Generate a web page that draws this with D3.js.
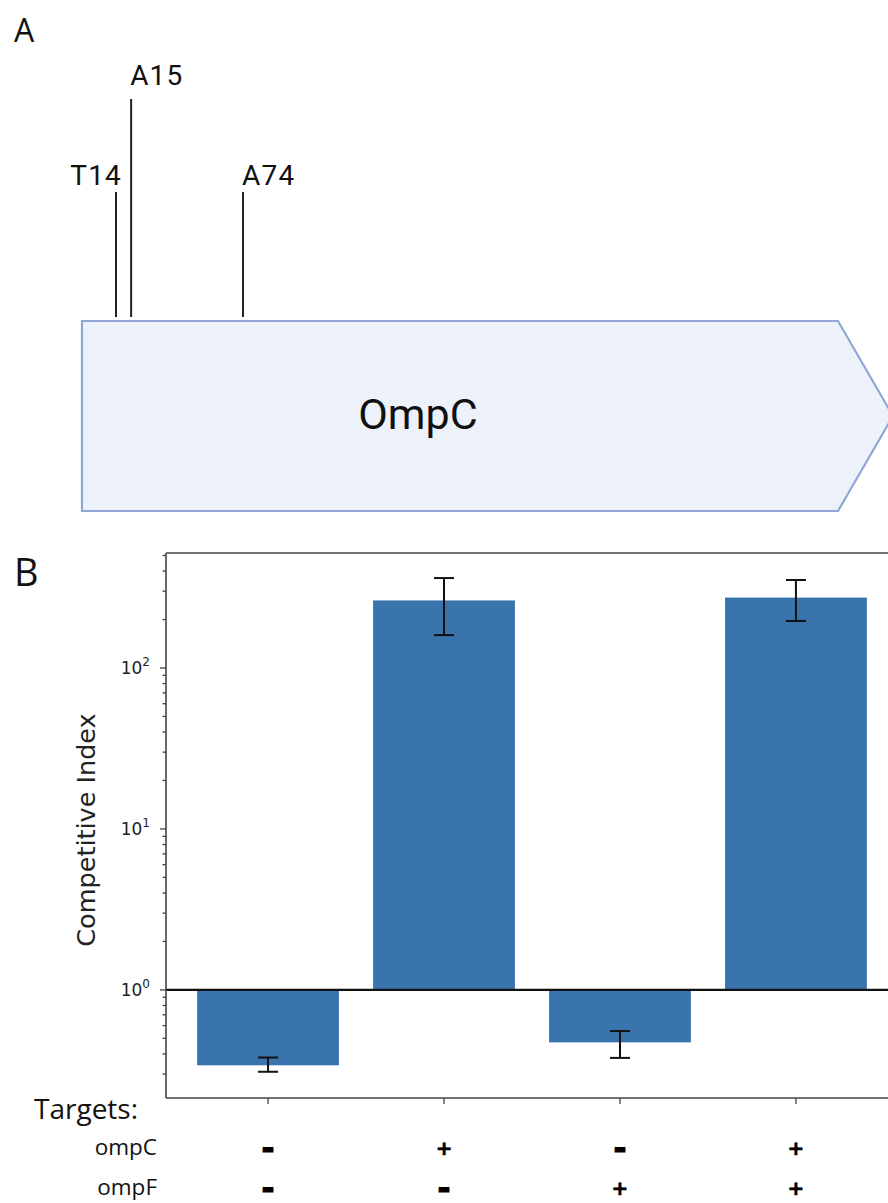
<!DOCTYPE html>
<html><head><meta charset="utf-8">
<script src="https://cdn.jsdelivr.net/npm/d3@7"></script>
<style>body{margin:0;background:#fff}svg{display:block}</style>
</head><body>
<svg id="c" width="888" height="1203"></svg>
<script>
// ---- Panel A data ----
const geneName = "OmpC";
const mutations = ["T14", "A15", "A74"];
const mutationPos = [0.045, 0.065, 0.213];   // fraction along the gene schematic
const mutationLevel = [1, 2, 1];             // label tier
// ---- Panel B data ----
const conditions = ["ompC- ompF-", "ompC+ ompF-", "ompC- ompF+", "ompC+ ompF+"];
const ciValues = [0.342, 261, 0.475, 272];
const ciLow = [0.31, 160, 0.378, 196];
const ciHigh = [0.38, 362, 0.555, 352];
const ompCSign = ["-", "+", "-", "+"];
const ompFSign = ["-", "-", "+", "+"];
const yDomain = [0.213, 518];
const majorTicks = [1, 10, 100];
const majorExp = ["0", "1", "2"];

const svg = d3.select("#c");
svg.append("rect").attr("width", 888).attr("height", 1203).attr("fill", "#fff");

// ---------- Panel A ----------
svg.append("text").attr("x", 14).attr("y", 42).text("A")
  .attr("font-family", "Open Sans").attr("font-size", 32).attr("fill", "#111");

const gx0 = 82, gx1 = 838, gTip = 893, gTop = 321, gBot = 511;
const gScale = d3.scaleLinear().domain([0, 1]).range([gx0, gx1]);
const arrow = d3.path();
arrow.moveTo(gScale(0), gTop); arrow.lineTo(gScale(1), gTop);
arrow.lineTo(gTip, (gTop + gBot) / 2); arrow.lineTo(gScale(1), gBot);
arrow.lineTo(gScale(0), gBot); arrow.closePath();
svg.append("path").attr("d", arrow.toString())
  .attr("fill", "#edf2fa").attr("stroke", "#8fa6d6").attr("stroke-width", 2.2);
svg.append("text").attr("x", 418).attr("y", 429).attr("text-anchor", "middle")
  .text(geneName).attr("font-family", "Roboto").attr("font-size", 43).attr("fill", "#111");

const tierTop = d3.scaleOrdinal().domain([1, 2]).range([192, 99]);
const tierGap = d3.scaleOrdinal().domain([1, 2]).range([7, 14]);
const mg = svg.append("g").selectAll("g").data(mutations).join("g");
mg.append("line")
  .attr("x1", (d, i) => gScale(mutationPos[i])).attr("x2", (d, i) => gScale(mutationPos[i]))
  .attr("y1", (d, i) => tierTop(mutationLevel[i])).attr("y2", 317)
  .attr("stroke", "#222").attr("stroke-width", 2);
mg.append("text")
  .attr("x", (d, i) => i === 0 ? gScale(mutationPos[i]) + 6 : gScale(mutationPos[i]) - 1)
  .attr("y", (d, i) => tierTop(mutationLevel[i]) - tierGap(mutationLevel[i]))
  .attr("text-anchor", (d, i) => i === 0 ? "end" : "start")
  .attr("font-family", "Roboto").attr("font-size", 28).attr("letter-spacing", 1.2)
  .attr("fill", "#111").text(d => d);

// ---------- Panel B ----------
svg.append("text").attr("x", 14).attr("y", 586).text("B")
  .attr("font-family", "Open Sans").attr("font-size", 38).attr("fill", "#111");

const L = 166, R = 898, T = 553, B = 1098;
const x = d3.scaleLinear().domain([-0.58, 3.58]).range([L, R]);
const y = d3.scaleLog().domain(yDomain).range([B, T]);
const bw = x(0.4) - x(0);

// bars
svg.append("g").selectAll("rect").data(ciValues).join("rect")
  .attr("x", (d, i) => x(i) - bw).attr("width", 2 * bw)
  .attr("y", d => Math.min(y(d), y(1))).attr("height", d => Math.abs(y(d) - y(1)))
  .attr("fill", "#3a74ad").attr("stroke", "#2f6aa8").attr("stroke-width", 0.8);

// error bars
const eg = svg.append("g").attr("stroke", "#111").attr("stroke-width", 2);
conditions.forEach((c, i) => {
  eg.append("line").attr("x1", x(i)).attr("x2", x(i)).attr("y1", y(ciLow[i])).attr("y2", y(ciHigh[i]));
  [ciLow[i], ciHigh[i]].forEach(v => eg.append("line")
    .attr("x1", x(i) - 10).attr("x2", x(i) + 10).attr("y1", y(v)).attr("y2", y(v)));
});

// baseline at 10^0
svg.append("line").attr("x1", L).attr("x2", 888).attr("y1", y(1)).attr("y2", y(1))
  .attr("stroke", "#111").attr("stroke-width", 2.2);

// spines
const sp = svg.append("g").attr("stroke", "#444").attr("stroke-width", 1.6).attr("fill", "none");
sp.append("line").attr("x1", L).attr("x2", L).attr("y1", T).attr("y2", B);
sp.append("line").attr("x1", L).attr("x2", 888).attr("y1", T).attr("y2", T);
sp.append("line").attr("x1", L).attr("x2", 888).attr("y1", B).attr("y2", B);
sp.append("line").attr("x1", R).attr("x2", R).attr("y1", T).attr("y2", B);

// y ticks
const allTicks = y.ticks(20).filter(t => t >= yDomain[0] && t <= yDomain[1]);
svg.append("g").selectAll("line").data(allTicks).join("line")
  .attr("x1", L).attr("x2", d => majorTicks.includes(d) ? L - 6 : L - 3.5)
  .attr("y1", d => y(d)).attr("y2", d => y(d))
  .attr("stroke", "#444").attr("stroke-width", 1.3);
const tl = svg.append("g").selectAll("text").data(majorTicks).join("text")
  .attr("x", 150).attr("y", d => y(d) + 6).attr("text-anchor", "end")
  .attr("font-family", "DejaVu Sans").attr("fill", "#222");
tl.append("tspan").attr("font-size", 17).text("10");
tl.append("tspan").attr("font-size", 12).attr("dy", -8).text((d, i) => majorExp[i]);

// y label
svg.append("text").attr("transform", "translate(95,830) rotate(-90)")
  .attr("text-anchor", "middle").attr("font-family", "DejaVu Sans").attr("font-size", 25.5)
  .attr("fill", "#222").text("Competitive Index");

// x ticks
svg.append("g").selectAll("line").data(conditions).join("line")
  .attr("x1", (d, i) => x(i)).attr("x2", (d, i) => x(i)).attr("y1", B).attr("y2", B + 6)
  .attr("stroke", "#444").attr("stroke-width", 1.3);

// targets table
svg.append("text").attr("x", 34).attr("y", 1119).text("Targets:")
  .attr("font-family", "Open Sans").attr("font-size", 28).attr("fill", "#111");
const rows = [["ompC", ompCSign, 1148], ["ompF", ompFSign, 1188]];
rows.forEach(([name, signs, yy]) => {
  svg.append("text").attr("x", 157).attr("y", yy + 7)
    .attr("text-anchor", "end").text(name)
    .attr("font-family", "Open Sans").attr("font-size", 22.5).attr("fill", "#111");
  svg.append("g").selectAll("text").data(signs).join("text")
    .attr("x", (d, i) => x(i)).attr("y", yy).attr("dominant-baseline", "central")
    .attr("text-anchor", "middle").attr("font-family", "DejaVu Sans").attr("font-weight", "bold")
    .attr("font-size", 20).attr("fill", "#000")
    .attr("stroke", "#000").attr("stroke-width", d => d === "+" ? 0.6 : 3)
    .text(d => d === "+" ? "+" : "–");
});
</script>
</body></html>
